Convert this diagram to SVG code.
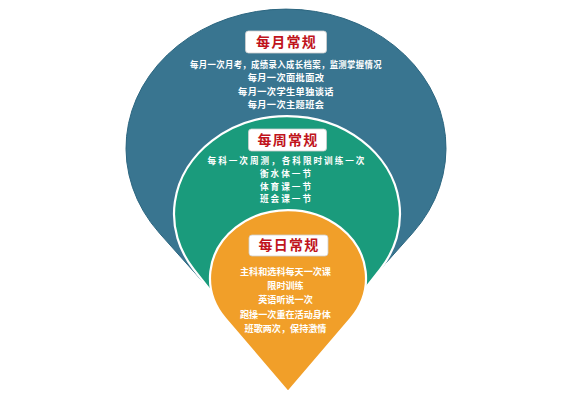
<svg xmlns="http://www.w3.org/2000/svg" width="570" height="404" viewBox="0 0 570 404">
  <style>
    .title { font-family: "Noto Sans CJK SC", "Noto Sans", sans-serif; font-weight: bold; font-size: 14px; fill: #c0141c; text-anchor: middle; letter-spacing: 1.3px; }
    .line { font-family: "Noto Sans CJK SC", "Noto Sans", sans-serif; font-weight: bold; fill: #ffffff; text-anchor: middle; }
    .mo { font-size: 9.2px; letter-spacing: 0.4px; }
    .wk { font-size: 8.6px; letter-spacing: 2px; }
    .dy { font-size: 9.1px; }
    .box { fill: #ffffff; stroke: #cfcfcf; stroke-width: 0.8; }
  </style>
  <rect width="570" height="404" fill="#ffffff"/>
  <g id="monthly">
    <path d="M159.4 233.1 A160 139 0 1 1 412.6 233.1 L286 375 Z" fill="#397590" stroke="#2c6680" stroke-width="1"/>
    <rect class="box" x="245.5" y="31" width="81" height="22" rx="3"/>
    <text class="title" x="286.5" y="47">每月常规</text>
    <text class="line mo" x="286" y="68" textLength="192" lengthAdjust="spacingAndGlyphs">每月一次月考，成绩录入成长档案，监测掌握情况</text>
    <text class="line mo" x="286" y="81.4">每月一次面批面改</text>
    <text class="line mo" x="286" y="94.8">每月一次学生单独谈话</text>
    <text class="line mo" x="286" y="108.2">每月一次主题班会</text>
  </g>
  <g id="weekly">
    <path d="M193.6 269.2 A113 98 0 1 1 380.4 269.2 L287 388 Z" fill="#1a9b7c" stroke="#ffffff" stroke-width="2.2"/>
    <rect class="box" x="248.5" y="129" width="78" height="22" rx="3"/>
    <text class="title" x="288" y="145.3">每周常规</text>
    <text class="line wk" x="287" y="164.3">每科一次周测，各科限时训练一次</text>
    <text class="line wk" x="286.5" y="176.9">衡水体一节</text>
    <text class="line wk" x="286.5" y="189.5">体育课一节</text>
    <text class="line wk" x="286.5" y="202.1">班会课一节</text>
  </g>
  <g id="daily">
    <path d="M225.4 318.6 A78 68 0 1 1 350.6 318.6 L288 392 Z" fill="#f19f29" stroke="#ffffff" stroke-width="2.2"/>
    <rect class="box" x="249" y="235" width="79" height="21" rx="3"/>
    <text class="title" x="289" y="250.3">每日常规</text>
    <text class="line dy" x="285.5" y="275.1">主科和选科每天一次课</text>
    <text class="line dy" x="285.5" y="289.1">限时训练</text>
    <text class="line dy" x="285.5" y="303.4">英语听说一次</text>
    <text class="line dy" x="285.5" y="317.7">跑操一次重在活动身体</text>
    <text class="line dy" x="285.5" y="331.7">班歌两次，保持激情</text>
  </g>
  <g id="connectors"/>
</svg>
